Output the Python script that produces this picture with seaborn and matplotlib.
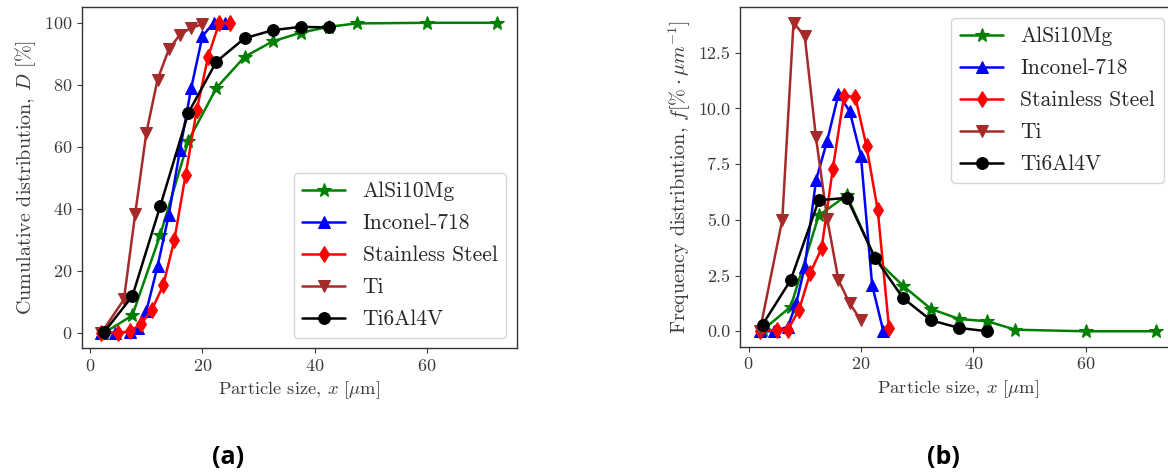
import matplotlib
matplotlib.use("Agg")
import matplotlib.pyplot as plt
import seaborn as sns
import numpy as np

# ---------------- data ----------------
names = ["AlSi10Mg", "Inconel-718", "Stainless Steel", "Ti", "Ti6Al4V"]

x_alsi = [2.5, 7.5, 12.5, 17.5, 22.5, 27.5, 32.5, 37.5, 42.5, 47.5, 60, 72.5]
cum_alsi = [0, 5.6, 31.7, 62, 79, 89, 94, 96.8, 98.7, 99.8, 100, 100]
freq_alsi = [0.05, 1.1, 5.2, 6.1, 3.27, 2.04, 1.0, 0.55, 0.45, 0.07, 0.0, 0.0]

x_inc = [2, 4.5, 7, 8.5, 10, 12, 14, 16, 18, 20, 22, 24]
cum_inc = [0, 0, 0.3, 1.6, 7, 21.5, 38, 59, 79, 95.7, 100, 100]
freq_inc = [0, 0, 0.2, 1.27, 2.9, 6.77, 8.56, 10.64, 9.88, 7.87, 2.07, 0]

x_ss = [2, 5, 7, 9, 11, 13, 15, 17, 19, 21, 23, 25]
cum_ss = [0, 0, 0.5, 2.7, 7.5, 15.3, 30, 51, 72, 89, 100, 100]
freq_ss = [0, 0.07, 0.07, 0.97, 2.63, 3.72, 7.3, 10.57, 10.52, 8.3, 5.44, 0.15]

x_ti = [2, 6, 8, 10, 12, 14, 16, 18, 20]
cum_ti = [0, 10.75, 38.2, 64.5, 81.7, 91.4, 96.2, 98.4, 99.5]
freq_ti = [0, 5.0, 13.85, 13.25, 8.7, 5.05, 2.3, 1.25, 0.5]

x_tav = [2.5, 7.5, 12.5, 17.5, 22.5, 27.5, 32.5, 37.5, 42.5]
cum_tav = [0.3, 11.8, 41, 71, 87.5, 95, 97.6, 98.7, 98.5]
freq_tav = [0.3, 2.3, 5.88, 5.99, 3.3, 1.49, 0.49, 0.15, 0.0]

xs = [x_alsi, x_inc, x_ss, x_ti, x_tav]
cums = [cum_alsi, cum_inc, cum_ss, cum_ti, cum_tav]
freqs = [freq_alsi, freq_inc, freq_ss, freq_ti, freq_tav]

colors = ["green", "blue", "red", "brown", "black"]
markers = ["*", "^", "d", "v", "o"]

# ---------------- style ----------------
sns.set_theme(style="ticks")
plt.rcParams["font.family"] = ["serif"]
plt.rcParams["font.serif"] = ["cmr10", "DejaVu Serif"]
plt.rcParams["mathtext.fontset"] = "cm"
plt.rcParams["axes.unicode_minus"] = False
plt.rcParams["axes.formatter.use_mathtext"] = True

TXT = "#3a3a3a"

fig = plt.figure(figsize=(11.68, 4.72), dpi=100)
W, H = 1168.0, 472.0
ax1 = fig.add_axes([81.7 / W, 1 - 348.3 / H, (516.7 - 81.7) / W, (348.3 - 7.3) / H])
ax2 = fig.add_axes([740 / W, 1 - 346.7 / H, 435.6 / W, (346.7 - 7.3) / H])

for ax, ys in [(ax1, cums), (ax2, freqs)]:
    for name, x, y, c, m in zip(names, xs, ys, colors, markers):
        ms = 10.5 if m == "*" else 8.5
        sns.lineplot(x=x, y=y, ax=ax, color=c, marker=m, markersize=ms,
                     linewidth=1.8, markeredgecolor=c, label=name)
    for sp in ax.spines.values():
        sp.set_visible(True)
        sp.set_linewidth(1.0)
        sp.set_color("#333333")
    ax.tick_params(labelsize=13, colors=TXT, length=3.5, width=0.8)
    ax.set_xticks([0, 20, 40, 60])
    ax.set_xlabel(r"Particle size, $x$ [$\mu$m]", fontsize=13.3, color=TXT)
    ax.grid(False)

ax1.set_yticks([0, 20, 40, 60, 80, 100])
ax1.set_ylabel(r"Cumulative distribution, $D$ [%]", fontsize=14.5, color=TXT)
ax2.set_yticks([0, 2.5, 5.0, 7.5, 10.0, 12.5])
ax2.set_yticklabels(["0.0", "2.5", "5.0", "7.5", "10.0", "12.5"])
ax2.set_ylabel(r"Frequency distribution, $f[\% \cdot \mu m^{-1}]$", fontsize=14.5, color=TXT)

leg_kw = dict(fontsize=15.5, framealpha=0.8, handlelength=2.0, borderaxespad=0.0,
              labelspacing=0.58)
ax1.legend(loc="lower right", bbox_to_anchor=(0.9754, 0.030), **leg_kw)
ax2.legend(loc="upper right", bbox_to_anchor=(0.973, 0.9685), **leg_kw)

fig.text(228 / W, 1 - 457 / H, "(a)", fontsize=18, fontweight="bold",
         family=["Open Sans", "DejaVu Sans"], ha="center", va="center", color="black")
fig.text(943 / W, 1 - 457 / H, "(b)", fontsize=18, fontweight="bold",
         family=["Open Sans", "DejaVu Sans"], ha="center", va="center", color="black")

fig.savefig("out.png", dpi=100)
